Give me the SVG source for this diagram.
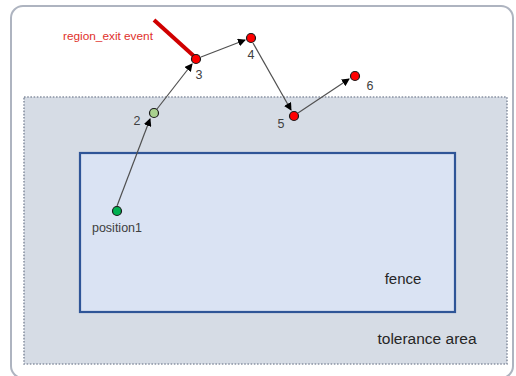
<svg xmlns="http://www.w3.org/2000/svg" width="516" height="376" viewBox="0 0 516 376">
<style>
.lbl{font-family:"Liberation Sans","DejaVu Sans",sans-serif;fill:#404040;font-size:12.5px}
.big{font-family:"Liberation Sans","DejaVu Sans",sans-serif;fill:#262626;font-size:15.5px}
.conn line{stroke:#505050;stroke-width:1.2;marker-end:url(#ah)}
.dot{stroke:#1a1a1a;stroke-width:1.2}
.red{fill:#ff0000}
</style>
<defs>
<marker id="ah" markerWidth="8" markerHeight="8" refX="7" refY="4" orient="auto" markerUnits="userSpaceOnUse" viewBox="0 0 8 8">
<path d="M0,0 L8,4 L0,8 Z" fill="#000"/>
</marker>
</defs>
<rect width="516" height="376" fill="#ffffff"/>
<g id="frame">
<rect x="11" y="6" width="502" height="372" rx="12" fill="#ffffff" stroke="#aeb4c0" stroke-width="2"/>
</g>
<g id="tolerance">
<rect x="24" y="97" width="483" height="267" fill="#d6dce5" stroke="#8a93a3" stroke-width="1.6" stroke-dasharray="1.6 1.6"/>
<text class="big" x="427" y="344" text-anchor="middle">tolerance area</text>
</g>
<g id="fence">
<rect x="80" y="153" width="375" height="159" fill="#dae3f3" stroke="#2f5597" stroke-width="2.2"/>
<text class="big" x="403" y="284" text-anchor="middle" style="font-size:15px">fence</text>
</g>
<g id="region_exit">
<line x1="154" y1="20" x2="196" y2="58" stroke="#d00000" stroke-width="4"/>
<text x="108" y="40" text-anchor="middle" font-family="Liberation Sans, DejaVu Sans, sans-serif" font-size="11.8" fill="#e0302a">region_exit event</text>
</g>
<g id="connectors" class="conn">
<line x1="117" y1="206" x2="150" y2="119"/>
<line x1="157" y1="109" x2="192" y2="64"/>
<line x1="201" y1="57" x2="245" y2="40"/>
<line x1="253" y1="43" x2="291" y2="110"/>
<line x1="298" y1="113" x2="349" y2="79"/>
</g>
<g id="position1">
<circle class="dot" cx="117" cy="211" r="4.5" fill="#00b050"/>
<text class="lbl" x="117" y="232" text-anchor="middle">position1</text>
</g>
<g id="p2">
<circle class="dot" cx="154" cy="113" r="4.5" fill="#a9d18e"/>
<text class="lbl" x="137" y="125" text-anchor="middle">2</text>
</g>
<g id="p3">
<circle class="dot red" cx="196" cy="59" r="4.5"/>
<text class="lbl" x="199" y="79" text-anchor="middle">3</text>
</g>
<g id="p4">
<circle class="dot red" cx="251" cy="38" r="4.5"/>
<text class="lbl" x="251" y="59" text-anchor="middle">4</text>
</g>
<g id="p5">
<circle class="dot red" cx="294" cy="116" r="4.5"/>
<text class="lbl" x="281" y="128" text-anchor="middle">5</text>
</g>
<g id="p6">
<circle class="dot red" cx="355" cy="76" r="4.5"/>
<text class="lbl" x="370" y="90" text-anchor="middle">6</text>
</g>
</svg>
